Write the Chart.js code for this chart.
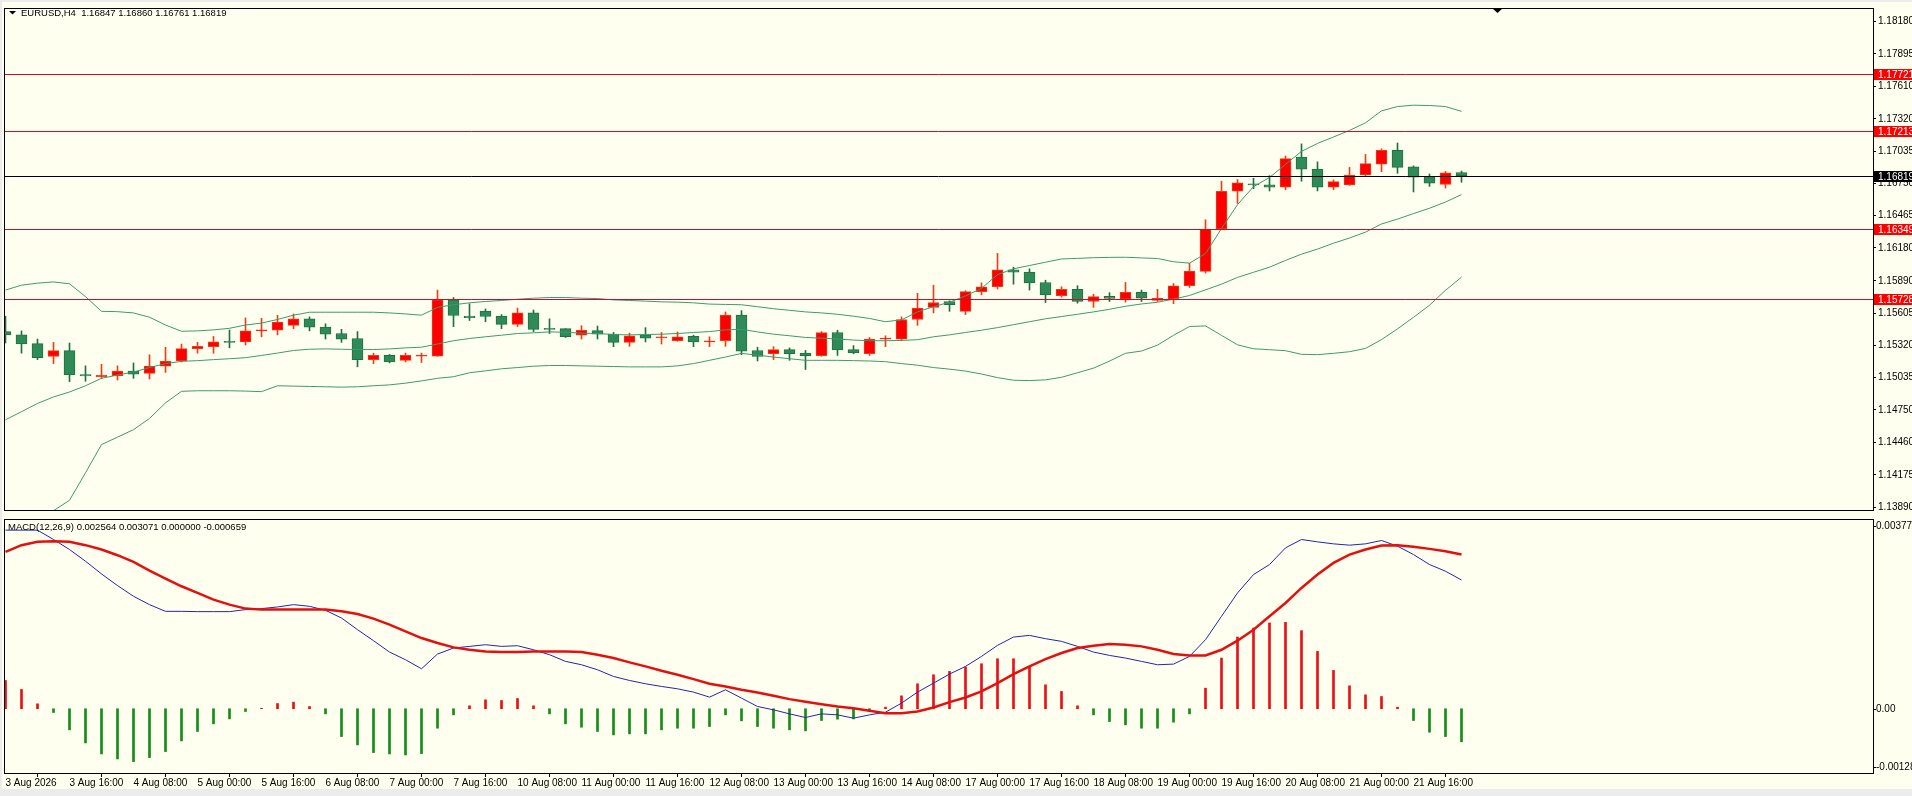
<!DOCTYPE html>
<html>
<head>
<meta charset="utf-8">
<title>EURUSD,H4</title>
<script src="https://cdn.jsdelivr.net/npm/chart.js@4.4.1/dist/chart.umd.min.js"></script>
<style>
	html, body { margin: 0; padding: 0; background: #ececec; overflow: hidden; }
	#frame { position: absolute; left: 2px; top: 2px; width: 1910px; height: 787px; background: #fffff0; }
	canvas { position: absolute; left: 0; }
	#priceChart { top: 0; }
	#macdChart { top: 518px; }
</style>
</head>
<body>
<div id="frame"></div>
<canvas id="priceChart" width="1912" height="518"></canvas>
<canvas id="macdChart" width="1912" height="278"></canvas>
<script>
// Time axis labels, one every 4 bars (H4 -> 16 hours)
const tickLabels = ["3 Aug 2026", "3 Aug 16:00", "4 Aug 08:00", "5 Aug 00:00", "5 Aug 16:00", "6 Aug 08:00",
	"7 Aug 00:00", "7 Aug 16:00", "10 Aug 08:00", "11 Aug 00:00", "11 Aug 16:00", "12 Aug 08:00",
	"13 Aug 00:00", "13 Aug 16:00", "14 Aug 08:00", "17 Aug 00:00", "17 Aug 16:00", "18 Aug 08:00",
	"19 Aug 00:00", "19 Aug 16:00", "20 Aug 08:00", "21 Aug 00:00", "21 Aug 16:00"];

// Candles
const openP = [1.15441,1.15412,1.15334,1.15221,1.15273,1.15062,1.15042,1.15048,1.15091,1.15071,
	1.15135,1.15181,1.15291,1.15308,1.15351,1.15349,1.15447,1.15453,1.15496,1.15554,
	1.15481,1.15424,1.15380,1.15193,1.15230,1.15187,1.15224,1.15224,1.15721,1.15577,
	1.15623,1.15577,1.15505,1.15606,1.15467,1.15467,1.15409,1.15450,1.15418,1.15346,
	1.15412,1.15386,1.15360,1.15398,1.15349,1.15360,1.15586,1.15274,1.15245,1.15282,
	1.15251,1.15227,1.15433,1.15282,1.15245,1.15375,1.15375,1.15548,1.15655,1.15707,
	1.15620,1.15794,1.15837,1.15987,1.15967,1.15875,1.15759,1.15814,1.15707,1.15752,
	1.15727,1.15788,1.15716,1.15727,1.15846,1.15973,1.16348,1.16681,1.16747,1.16738,
	1.16718,1.16984,1.16877,1.16718,1.16738,1.16825,1.16920,1.17042,1.16897,1.16811,
	1.16741,1.16847];
const highP = [1.15577,1.15447,1.15375,1.15346,1.15340,1.15138,1.15152,1.15138,1.15164,1.15236,
	1.15302,1.15331,1.15346,1.15398,1.15455,1.15562,1.15557,1.15585,1.15597,1.15571,
	1.15510,1.15461,1.15441,1.15250,1.15239,1.15251,1.15251,1.15808,1.15742,1.15687,
	1.15641,1.15591,1.15649,1.15632,1.15554,1.15467,1.15493,1.15490,1.15433,1.15427,
	1.15476,1.15433,1.15438,1.15409,1.15395,1.15614,1.15626,1.15303,1.15308,1.15297,
	1.15274,1.15441,1.15453,1.15317,1.15389,1.15404,1.15571,1.15779,1.15851,1.15713,
	1.15802,1.15872,1.16132,1.16010,1.15996,1.15895,1.15837,1.15846,1.15771,1.15785,
	1.15875,1.15808,1.15814,1.15866,1.16045,1.16429,1.16770,1.16785,1.16796,1.16819,
	1.16993,1.17100,1.16941,1.16782,1.16892,1.17007,1.17056,1.17108,1.16906,1.16834,
	1.16857,1.16860];
const lowP = [1.15340,1.15250,1.15193,1.15158,1.14999,1.15002,1.15028,1.15013,1.15028,1.15022,
	1.15080,1.15172,1.15250,1.15250,1.15297,1.15323,1.15395,1.15412,1.15467,1.15447,
	1.15375,1.15346,1.15129,1.15158,1.15164,1.15172,1.15167,1.15222,1.15485,1.15539,
	1.15528,1.15467,1.15485,1.15441,1.15424,1.15389,1.15375,1.15375,1.15308,1.15311,
	1.15349,1.15331,1.15355,1.15308,1.15308,1.15311,1.15236,1.15181,1.15193,1.15187,
	1.15106,1.15222,1.15230,1.15245,1.15230,1.15308,1.15360,1.15496,1.15606,1.15620,
	1.15591,1.15765,1.15817,1.15860,1.15808,1.15698,1.15745,1.15692,1.15655,1.15707,
	1.15701,1.15707,1.15707,1.15687,1.15831,1.15958,1.16343,1.16574,1.16704,1.16684,
	1.16695,1.16770,1.16684,1.16695,1.16733,1.16811,1.16854,1.16840,1.16675,1.16724,
	1.16710,1.16761];
const closeP = [1.15412,1.15331,1.15210,1.15273,1.15057,1.15048,1.15054,1.15091,1.15065,1.15135,
	1.15181,1.15291,1.15311,1.15351,1.15346,1.15447,1.15453,1.15525,1.15554,1.15481,
	1.15418,1.15375,1.15193,1.15230,1.15172,1.15230,1.15230,1.15721,1.15583,1.15565,
	1.15574,1.15505,1.15606,1.15461,1.15461,1.15395,1.15453,1.15418,1.15346,1.15404,
	1.15383,1.15395,1.15395,1.15349,1.15360,1.15586,1.15268,1.15222,1.15282,1.15245,
	1.15227,1.15433,1.15279,1.15253,1.15375,1.15383,1.15548,1.15649,1.15698,1.15678,
	1.15794,1.15837,1.15987,1.15967,1.15872,1.15765,1.15814,1.15707,1.15750,1.15735,
	1.15788,1.15736,1.15736,1.15846,1.15976,1.16348,1.16681,1.16756,1.16738,1.16718,
	1.16970,1.16877,1.16718,1.16767,1.16825,1.16926,1.17042,1.16892,1.16805,1.16753,
	1.16845,1.16819];

// Bollinger bands
const bbUpper = [1.15808,1.15851,1.15869,1.15880,1.15863,1.15750,1.15620,1.15617,1.15606,1.15568,
	1.15499,1.15444,1.15447,1.15456,1.15470,1.15499,1.15516,1.15548,1.15586,1.15612,
	1.15612,1.15612,1.15612,1.15612,1.15606,1.15597,1.15586,1.15655,1.15678,1.15695,
	1.15707,1.15716,1.15727,1.15736,1.15742,1.15742,1.15736,1.15733,1.15721,1.15716,
	1.15710,1.15704,1.15701,1.15695,1.15684,1.15681,1.15678,1.15661,1.15643,1.15629,
	1.15615,1.15606,1.15594,1.15577,1.15557,1.15528,1.15545,1.15615,1.15661,1.15701,
	1.15756,1.15823,1.15944,1.15996,1.16025,1.16054,1.16083,1.16088,1.16094,1.16097,
	1.16098,1.16092,1.16087,1.16058,1.16046,1.16130,1.16352,1.16563,1.16722,1.16803,
	1.16919,1.17034,1.17104,1.17161,1.17219,1.17286,1.17392,1.17430,1.17442,1.17439,
	1.17430,1.17387];
const bbMiddle = [1.14661,1.14733,1.14806,1.14863,1.14907,1.14962,1.15028,1.15057,1.15083,1.15123,
	1.15158,1.15178,1.15184,1.15193,1.15201,1.15210,1.15230,1.15251,1.15274,1.15285,
	1.15288,1.15285,1.15282,1.15282,1.15288,1.15297,1.15303,1.15331,1.15360,1.15380,
	1.15395,1.15409,1.15424,1.15430,1.15438,1.15435,1.15427,1.15424,1.15415,1.15412,
	1.15415,1.15418,1.15424,1.15433,1.15441,1.15456,1.15461,1.15438,1.15418,1.15404,
	1.15389,1.15383,1.15375,1.15366,1.15360,1.15360,1.15363,1.15369,1.15395,1.15412,
	1.15433,1.15453,1.15476,1.15502,1.15528,1.15554,1.15574,1.15594,1.15615,1.15638,
	1.15665,1.15685,1.15700,1.15728,1.15760,1.15810,1.15860,1.15920,1.15965,1.16010,
	1.16070,1.16125,1.16170,1.16222,1.16268,1.16320,1.16392,1.16435,1.16484,1.16531,
	1.16586,1.16652];
const bbLower = [1.13511,1.13615,1.13742,1.13858,1.13950,1.14193,1.14442,1.14508,1.14574,1.14673,
	1.14811,1.14913,1.14918,1.14918,1.14918,1.14915,1.14910,1.14962,1.14959,1.14956,
	1.14953,1.14950,1.14953,1.14962,1.14970,1.14985,1.15005,1.15028,1.15042,1.15077,
	1.15094,1.15112,1.15123,1.15135,1.15141,1.15141,1.15138,1.15135,1.15132,1.15129,
	1.15129,1.15129,1.15138,1.15158,1.15187,1.15216,1.15248,1.15233,1.15216,1.15201,
	1.15187,1.15187,1.15187,1.15184,1.15181,1.15175,1.15158,1.15144,1.15123,1.15109,
	1.15092,1.15066,1.15034,1.15011,1.15008,1.15014,1.15037,1.15077,1.15118,1.15180,
	1.15249,1.15269,1.15321,1.15408,1.15486,1.15491,1.15408,1.15324,1.15289,1.15281,
	1.15272,1.15240,1.15237,1.15249,1.15263,1.15292,1.15370,1.15465,1.15567,1.15674,
	1.15806,1.15922];

// MACD(12,26,9)
const macdMain = [0.003557,0.003557,0.003557,0.003371,0.003171,0.002938,0.002685,0.002453,0.002240,0.002073,
	0.001940,0.001940,0.001934,0.001934,0.001934,0.001974,0.001994,0.002027,0.002073,0.002040,
	0.001960,0.001807,0.001575,0.001355,0.001129,0.000976,0.000796,0.001089,0.001209,0.001242,
	0.001275,0.001242,0.001255,0.001175,0.001076,0.000943,0.000876,0.000776,0.000643,0.000563,
	0.000497,0.000444,0.000397,0.000331,0.000231,0.000377,0.000211,0.000045,-0.000022,-0.000102,
	-0.000175,-0.000102,-0.000122,-0.000188,-0.000122,-0.000069,0.000111,0.000331,0.000510,0.000690,
	0.000843,0.001042,0.001262,0.001428,0.001461,0.001395,0.001342,0.001242,0.001129,0.001062,
	0.001009,0.000943,0.000876,0.000889,0.001042,0.001375,0.001841,0.002306,0.002672,0.002872,
	0.003204,0.003371,0.003324,0.003284,0.003258,0.003284,0.003351,0.003238,0.003071,0.002872,
	0.002739,0.002564];
const macdSignal = [0.003124,0.003258,0.003324,0.003337,0.003324,0.003258,0.003171,0.003058,0.002925,0.002752,
	0.002592,0.002439,0.002306,0.002173,0.002073,0.001994,0.001974,0.001974,0.001974,0.001974,
	0.001974,0.001940,0.001887,0.001794,0.001674,0.001541,0.001408,0.001308,0.001222,0.001175,
	0.001142,0.001129,0.001129,0.001142,0.001142,0.001142,0.001129,0.001076,0.001009,0.000923,
	0.000843,0.000756,0.000677,0.000590,0.000497,0.000444,0.000377,0.000324,0.000257,0.000191,
	0.000138,0.000091,0.000045,0.000011,-0.000042,-0.000088,-0.000088,-0.000055,0.000025,0.000131,
	0.000224,0.000344,0.000510,0.000690,0.000843,0.000989,0.001109,0.001209,0.001255,0.001288,
	0.001275,0.001242,0.001175,0.001089,0.001062,0.001062,0.001175,0.001355,0.001575,0.001841,
	0.002107,0.002406,0.002672,0.002905,0.003071,0.003171,0.003251,0.003258,0.003224,0.003184,
	0.003138,0.003071];
const macdHist = [0.000563,0.000384,0.000098,-0.000075,-0.000421,-0.000681,-0.000900,-0.001000,-0.001053,-0.000973,
	-0.000853,-0.000641,-0.000454,-0.000301,-0.000202,-0.000055,0.000010,0.000104,0.000131,0.000045,
	-0.000102,-0.000554,-0.000720,-0.000873,-0.000900,-0.000920,-0.000893,-0.000388,-0.000122,0.000058,
	0.000178,0.000164,0.000204,0.000058,-0.000102,-0.000301,-0.000368,-0.000454,-0.000521,-0.000501,
	-0.000501,-0.000421,-0.000388,-0.000388,-0.000355,-0.000122,-0.000241,-0.000355,-0.000388,-0.000421,
	-0.000441,-0.000235,-0.000208,-0.000202,-0.000055,0.000031,0.000257,0.000497,0.000677,0.000743,
	0.000830,0.000896,0.000996,0.000996,0.000830,0.000477,0.000344,0.000058,-0.000122,-0.000255,
	-0.000321,-0.000388,-0.000388,-0.000268,-0.000102,0.000410,0.001009,0.001428,0.001608,0.001708,
	0.001721,0.001555,0.001142,0.000763,0.000457,0.000277,0.000244,0.000031,-0.000235,-0.000468,
	-0.000554,-0.000659];

// Scales
const priceTicks = [1.18180, 1.17895, 1.17610, 1.17320, 1.17035, 1.16750, 1.16465, 1.16180,
	1.15890, 1.15605, 1.15320, 1.15035, 1.14750, 1.14460, 1.14175, 1.13890];
const priceMin = 1.13864, priceMax = 1.18301;
const levelLines = [1.17721, 1.17213, 1.16349, 1.15728];
const macdMax = 0.003779, macdMin = -0.00128;
const macdTicks = [macdMax, 0, macdMin];

// Look
const FONT = '"Liberation Sans", Arial, sans-serif';
const UP_BODY = "#ff0000", UP_LINE = "#e8401c", DN_BODY = "#2e8b57", DN_LINE = "#1f7040";
const BAND = "#3c9a6e", LEVEL = "#c8102e";
const HIST_UP = "#e8101c", HIST_DN = "#178a17", MACD_BLUE = "#2424b0", MACD_RED = "#e41010";
const BAR_STEP = 16;
const AREA_LEFT = 4, AXIS_W = 39;
const xMin = -1.5 / BAR_STEP;
const xMax = xMin + (1912 - AXIS_W - AREA_LEFT) / BAR_STEP;

const last = closeP.length - 1;
const bid = closeP[last];
const isUp = closeP.map((c, i) => c >= openP[i]);
const pts = (arr) => arr.map((v, i) => ({ x: i, y: v }));

// Panel border, level lines, price boxes, title
const pricePanel = {
	id: "pricePanel",
	afterDatasetsDraw(chart) {
		const { ctx, chartArea: a, scales: { y } } = chart;
		ctx.save();
		ctx.lineWidth = 1;
		levelLines.concat([bid]).forEach((v, k) => {
			const py = Math.round(y.getPixelForValue(v)) + 0.5;
			ctx.strokeStyle = k < levelLines.length ? LEVEL : "#000";
			ctx.beginPath();
			ctx.moveTo(a.left, py);
			ctx.lineTo(a.right, py);
			ctx.stroke();
		});
		ctx.restore();
	},
	afterDraw(chart) {
		const { ctx, chartArea: a, scales: { y } } = chart;
		ctx.save();
		ctx.strokeStyle = "#000";
		ctx.lineWidth = 1;
		ctx.strokeRect(a.left + 0.5, a.top + 0.5, a.right - a.left, a.bottom - a.top);

		ctx.font = "10px " + FONT;
		ctx.textBaseline = "middle";
		levelLines.concat([bid]).forEach((v, k) => {
			const py = Math.round(y.getPixelForValue(v));
			ctx.fillStyle = k < levelLines.length ? "#ff0000" : "#000";
			ctx.fillRect(a.right + 1, py - 5, 40, 11);
			ctx.fillStyle = "#fff";
			ctx.fillText(v.toFixed(5), a.right + 5, py + 1);
		});

		// title
		ctx.fillStyle = "#000";
		ctx.beginPath();
		ctx.moveTo(9, 11); ctx.lineTo(16, 11); ctx.lineTo(12.5, 14.5);
		ctx.fill();
		ctx.font = "9.5px " + FONT;
		const ohlc = [openP[last], highP[last], lowP[last], closeP[last]].map(v => v.toFixed(5)).join(" ");
		ctx.fillText("EURUSD,H4  " + ohlc, 21, 13);

		// chart shift marker
		ctx.beginPath();
		ctx.moveTo(1492, a.top); ctx.lineTo(1503, a.top); ctx.lineTo(1497.5, a.top + 5);
		ctx.fill();
		ctx.restore();
	}
};

const macdPanel = {
	id: "macdPanel",
	afterDraw(chart) {
		const { ctx, chartArea: a, scales: { y } } = chart;
		ctx.save();
		ctx.strokeStyle = "#000";
		ctx.lineWidth = 1;
		ctx.strokeRect(a.left + 0.5, a.top + 0.5, a.right - a.left, a.bottom - a.top);
		ctx.font = "10px " + FONT;
		ctx.fillStyle = "#000";
		ctx.textBaseline = "middle";
		macdTicks.forEach(v => {
			let py = Math.round(y.getPixelForValue(v));
			py = Math.min(Math.max(py, a.top + 7), a.bottom - 6);
			ctx.fillRect(a.right + 1, py, 2, 1);
			ctx.fillText(v === 0 ? "0.00" : String(v), a.right + 3, py);
		});
		const h = macdHist[last];
		const vals = [macdMain[last], macdSignal[last], Math.max(h, 0), Math.min(h, 0)];
		ctx.font = "9.5px " + FONT;
		ctx.fillText("MACD(12,26,9) " + vals.map(v => v.toFixed(6)).join(" "), 8, a.top + 8);
		ctx.restore();
	}
};

const baseOptions = {
	responsive: false,
	animation: false,
	devicePixelRatio: 1,
	events: [],
	plugins: { legend: { display: false }, tooltip: { enabled: false } }
};

// Price chart
new Chart(document.getElementById("priceChart"), {
	type: "bar",
	data: {
		datasets: [
			{ type: "line", data: pts(bbUpper), borderColor: BAND, borderWidth: 1, pointRadius: 0, order: 0 },
			{ type: "line", data: pts(bbMiddle), borderColor: BAND, borderWidth: 1, pointRadius: 0, order: 0 },
			{ type: "line", data: pts(bbLower), borderColor: BAND, borderWidth: 1, pointRadius: 0, order: 0 },
			{
				type: "bar",
				data: openP.map((o, i) => ({ x: i, y: [o, closeP[i]] })),
				backgroundColor: isUp.map(u => u ? UP_BODY : DN_BODY),
				borderColor: isUp.map(u => u ? UP_LINE : DN_LINE),
				borderWidth: 1,
				borderSkipped: false,
				barThickness: 11,
				minBarLength: 1,
				grouped: false,
				order: 1
			},
			{
				type: "bar",
				data: lowP.map((l, i) => ({ x: i, y: [l, highP[i]] })),
				backgroundColor: isUp.map(u => u ? UP_LINE : DN_LINE),
				barThickness: 1,
				grouped: false,
				order: 2
			}
		]
	},
	options: {
		...baseOptions,
		layout: { padding: { left: AREA_LEFT, top: 4, right: 0, bottom: 1 } },
		scales: {
			x: { type: "linear", min: xMin, max: xMax, offset: false, bounds: "data", display: false },
			y: {
				type: "linear",
				position: "right",
				min: priceMin,
				max: priceMax,
				bounds: "data",
				afterBuildTicks: s => { s.ticks = priceTicks.map(v => ({ value: v })); },
				afterFit: s => { s.width = AXIS_W; },
				ticks: { callback: v => v.toFixed(5), font: { family: FONT, size: 10 }, color: "#000", padding: 2, autoSkip: false },
				grid: { drawOnChartArea: false, tickLength: 3, color: "#000" },
				border: { display: false }
			}
		}
	},
	plugins: [pricePanel]
});

// MACD chart
new Chart(document.getElementById("macdChart"), {
	type: "bar",
	data: {
		datasets: [
			{ type: "line", data: pts(macdSignal), borderColor: MACD_RED, borderWidth: 2.5, pointRadius: 0, order: 0 },
			{ type: "line", data: pts(macdMain), borderColor: MACD_BLUE, borderWidth: 1, pointRadius: 0, order: 1 },
			{
				type: "bar",
				data: pts(macdHist),
				backgroundColor: macdHist.map(v => v >= 0 ? HIST_UP : HIST_DN),
				barThickness: 2,
				grouped: false,
				order: 2
			}
		]
	},
	options: {
		...baseOptions,
		layout: { padding: { left: AREA_LEFT, top: 1, right: 0, bottom: 0 } },
		scales: {
			x: {
				type: "linear",
				min: xMin,
				max: xMax,
				offset: false,
				bounds: "data",
				afterBuildTicks: s => { s.ticks = tickLabels.map((t, k) => ({ value: k * 4 })); },
				afterFit: s => { s.height = 23; },
				ticks: {
					callback: v => tickLabels[v / 4],
					font: { family: FONT, size: 10 },
					color: "#000",
					align: "start",
					padding: 0,
					autoSkip: false,
					maxRotation: 0,
					minRotation: 0
				},
				grid: { drawOnChartArea: false, tickLength: 4, color: "#000" },
				border: { display: false }
			},
			y: {
				type: "linear",
				position: "right",
				min: macdMin,
				max: macdMax,
				bounds: "data",
				afterFit: s => { s.width = AXIS_W; },
				ticks: { display: false },
				grid: { display: false },
				border: { display: false }
			}
		}
	},
	plugins: [macdPanel]
});
</script>
</body>
</html>
